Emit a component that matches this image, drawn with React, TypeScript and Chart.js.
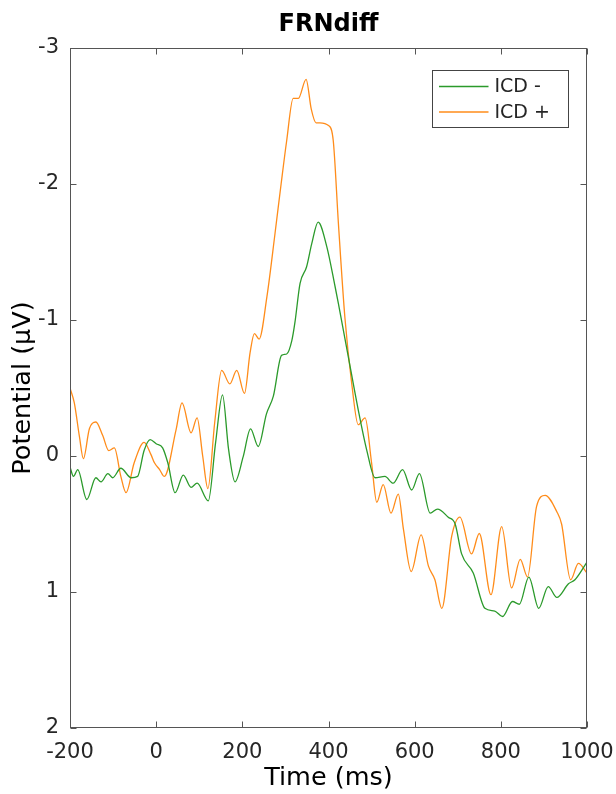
import React, { useEffect, useRef } from "react";
import { Chart, registerables } from "chart.js";

Chart.register(...registerables);

// ICD - (green)
const timeNeg = [-200, -192, -182, -161, -140, -128, -112, -101, -82, -58, -43, -28, -14, 0, 15, 27, 44, 63, 81, 95, 121, 138, 154, 168, 183, 202, 219, 237, 256, 272, 291, 303, 315, 322, 334, 349, 361, 376, 396, 415, 423, 450, 469, 489, 508, 531, 550, 572, 593, 611, 636, 653, 678, 694, 709, 736, 763, 786, 804, 827, 843, 865, 888, 910, 930, 957, 972, 1000];
const valNeg = [0.08, 0.15, 0.10, 0.32, 0.16, 0.19, 0.13, 0.16, 0.09, 0.16, 0.15, -0.04, -0.12, -0.09, -0.06, 0.05, 0.27, 0.14, 0.23, 0.20, 0.33, -0.10, -0.45, -0.05, 0.19, 0.005, -0.20, -0.07, -0.31, -0.44, -0.74, -0.75, -0.85, -0.98, -1.27, -1.39, -1.56, -1.72, -1.54, -1.25, -1.12, -0.66, -0.34, -0.04, 0.16, 0.15, 0.20, 0.10, 0.25, 0.13, 0.42, 0.39, 0.45, 0.50, 0.72, 0.86, 1.12, 1.14, 1.18, 1.07, 1.09, 0.89, 1.12, 0.96, 1.04, 0.94, 0.91, 0.78];

// ICD + (orange)
const timePos = [-200, -190, -178, -169, -155, -140, -124, -110, -97, -82, -70, -51, -28, -12, -4, 8, 19, 46, 60, 81, 95, 108, 120, 136, 152, 171, 187, 205, 218, 228, 239, 257, 276, 290, 303, 318, 330, 348, 360, 371, 380, 400, 411, 423, 438, 454, 469, 485, 500, 512, 527, 545, 562, 574, 592, 615, 632, 647, 663, 686, 705, 732, 750, 777, 802, 825, 845, 862, 883, 903, 930, 941, 962, 980, 1000];
const valPos = [-0.50, -0.39, -0.14, 0.02, -0.20, -0.25, -0.15, -0.04, -0.06, 0.15, 0.27, 0.05, -0.10, -0.01, 0.05, 0.10, 0.15, -0.19, -0.39, -0.17, -0.28, 0.0, 0.24, -0.25, -0.63, -0.53, -0.63, -0.46, -0.76, -0.90, -0.86, -1.17, -1.64, -2.00, -2.32, -2.63, -2.63, -2.77, -2.55, -2.45, -2.45, -2.43, -2.32, -1.71, -1.02, -0.53, -0.23, -0.28, 0.05, 0.34, 0.21, 0.42, 0.28, 0.54, 0.85, 0.58, 0.81, 0.91, 1.12, 0.59, 0.45, 0.72, 0.57, 1.02, 0.52, 0.97, 0.76, 0.89, 0.37, 0.29, 0.41, 0.50, 0.91, 0.79, 0.86];

const xTicks = [-200, 0, 200, 400, 600, 800, 1000];
const yTicks = [-3, -2, -1, 0, 1, 2];
const seriesLabels = ["ICD -", "ICD +"];
const seriesColors = ["#2b9a2b", "#ff8c1a"];

const FONT = "'DejaVu Sans', sans-serif";
const TEXT = "#262626";
const AXIS = "#555555";

const framePlugin = {
  id: "frame",
  afterDatasetsDraw(chart: any) {
    const { ctx, chartArea: a, scales } = chart;
    const x = scales.x;
    const y = scales.y;
    ctx.save();
    ctx.strokeStyle = AXIS;
    ctx.lineWidth = 1;
    const L = Math.round(a.left) + 0.5;
    const R = Math.round(a.right) - 0.5;
    const T = Math.round(a.top) + 0.5;
    const B = Math.round(a.bottom) - 0.5;
    ctx.strokeRect(L, T, R - L, B - T);
    const tl = 6;
    ctx.beginPath();
    xTicks.forEach((t) => {
      const px = Math.round(x.getPixelForValue(t)) + 0.5;
      ctx.moveTo(px, B);
      ctx.lineTo(px, B - tl);
      ctx.moveTo(px, T);
      ctx.lineTo(px, T + tl);
    });
    yTicks.forEach((v) => {
      const py = Math.round(y.getPixelForValue(v)) + 0.5;
      ctx.moveTo(L, py);
      ctx.lineTo(L + tl, py);
      ctx.moveTo(R, py);
      ctx.lineTo(R - tl, py);
    });
    ctx.stroke();

    // legend
    const bx = 432.5, by = 70.5, bw = 136, bh = 57;
    ctx.fillStyle = "#ffffff";
    ctx.fillRect(bx, by, bw, bh);
    ctx.strokeStyle = "#444444";
    ctx.strokeRect(bx, by, bw, bh);
    ctx.font = `19px ${FONT}`;
    ctx.textBaseline = "middle";
    ctx.textAlign = "left";
    const rows = [by + 16, by + 41.5];
    seriesLabels.forEach((lab, i) => {
      ctx.strokeStyle = seriesColors[i];
      ctx.lineWidth = 1.3;
      ctx.beginPath();
      ctx.moveTo(bx + 6.5, rows[i]);
      ctx.lineTo(bx + 56, rows[i]);
      ctx.stroke();
      ctx.fillStyle = TEXT;
      ctx.fillText(lab, bx + 62, rows[i] + 1);
    });
    ctx.restore();
  },
};

export default function App() {
  const ref = useRef<HTMLCanvasElement | null>(null);
  useEffect(() => {
    if (!ref.current) return;
    const chart = new Chart(ref.current, {
      type: "line",
      data: {
        datasets: [
          {
            label: seriesLabels[0],
            data: timeNeg.map((t, i) => ({ x: t, y: valNeg[i] })),
            borderColor: seriesColors[0],
            borderWidth: 1.3,
            pointRadius: 0,
            cubicInterpolationMode: "monotone",
            fill: false,
          },
          {
            label: seriesLabels[1],
            data: timePos.map((t, i) => ({ x: t, y: valPos[i] })),
            borderColor: seriesColors[1],
            borderWidth: 1.3,
            pointRadius: 0,
            cubicInterpolationMode: "monotone",
            fill: false,
          },
        ],
      },
      options: {
        responsive: false,
        animation: false,
        layout: { padding: { top: 0, right: 29, bottom: 0, left: 0 } },
        plugins: {
          legend: { display: false },
          tooltip: { enabled: false },
          title: {
            display: true,
            text: "FRNdiff",
            color: "#000000",
            fullSize: false,
            font: { family: FONT, size: 24, weight: "bold", lineHeight: 1.2 },
            padding: { top: 10.6, bottom: 8.6 },
          },
        },
        scales: {
          x: {
            type: "linear",
            min: -200,
            max: 1000,
            afterFit: (s: any) => {
              s.height = 66;
              s.paddingLeft = 0;
              s.paddingRight = 0;
            },
            afterBuildTicks: (s: any) => {
              s.ticks = xTicks.map((v) => ({ value: v }));
            },
            grid: { display: false, drawTicks: false },
            border: { display: false },
            ticks: {
              color: TEXT,
              font: { family: FONT, size: 21 },
              padding: 12,
              maxRotation: 0,
              autoSkip: false,
              callback: (v: any) => String(v),
            },
            title: {
              display: true,
              text: "Time (ms)",
              color: "#000000",
              font: { family: FONT, size: 25.5, lineHeight: 1.2 },
              padding: { top: 0, bottom: 0 },
            },
          },
          y: {
            type: "linear",
            reverse: true,
            min: -3,
            max: 2,
            afterFit: (s: any) => {
              s.width = 70;
              s.paddingTop = 0;
              s.paddingBottom = 0;
            },
            afterBuildTicks: (s: any) => {
              s.ticks = yTicks.map((v) => ({ value: v }));
            },
            grid: { display: false, drawTicks: false },
            border: { display: false },
            ticks: {
              color: TEXT,
              font: { family: FONT, size: 21 },
              padding: 11,
              autoSkip: false,
              callback: (v: any) => String(v),
            },
            title: {
              display: true,
              text: "Potential (µV)",
              color: "#000000",
              font: { family: FONT, size: 25.5, lineHeight: 1.2 },
              padding: { top: 8, bottom: 0 },
            },
          },
        },
      },
      plugins: [framePlugin],
    });
    return () => chart.destroy();
  }, []);
  return (
    <div style={{ position: "fixed", left: 0, top: 0, width: 616, height: 794, background: "#fff" }}>
      <canvas ref={ref} width={616} height={794} style={{ display: "block" }} />
    </div>
  );
}
